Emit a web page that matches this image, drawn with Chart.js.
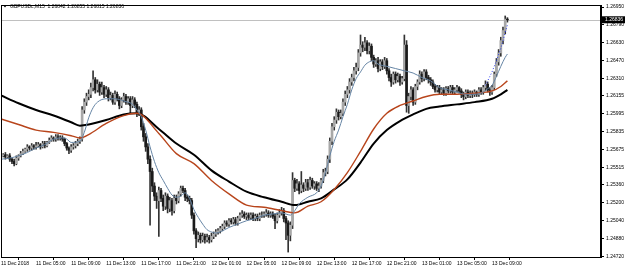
<!DOCTYPE html>
<html>
<head>
<meta charset="utf-8">
<script src="https://cdn.jsdelivr.net/npm/chart.js@4.4.1/dist/chart.umd.min.js"></script>
<style>
  html, body { margin: 0; padding: 0; background: #fff; }
  canvas { display: block; }
</style>
</head>
<body>
<canvas id="chart" width="625" height="270"></canvas>
<script>
// GBPUSDc M15, 15 minute bars from 11 Dec 01:00 (bar 0)
const barOpen = [
  1.2561,1.2562,1.2563,1.2561,1.2562,1.2559,1.2557,1.2555,1.2560,1.2562,
  1.2564,1.2566,1.2568,1.2570,1.2569,1.2571,1.2570,1.2571,1.2572,1.2570,
  1.2573,1.2571,1.2574,1.2576,1.2578,1.2577,1.2579,1.2578,1.2578,1.2577,
  1.2573,1.2569,1.2567,1.2570,1.2571,1.2573,1.2575,1.2577,1.2603,1.2610,
  1.2615,1.2617,1.2623,1.2630,1.2621,1.2626,1.2619,1.2623,1.2617,1.2621,
  1.2614,1.2616,1.2610,1.2617,1.2613,1.2607,1.2612,1.2615,1.2610,1.2613,
  1.2607,1.2612,1.2608,1.2600,1.2603,1.2588,1.2579,1.2570,1.2559,1.2548,
  1.2535,1.2526,1.2522,1.2531,1.2524,1.2517,1.2526,1.2515,1.2522,1.2513,
  1.2524,1.2522,1.2528,1.2533,1.2531,1.2525,1.2524,1.2522,1.2509,1.2495,
  1.2488,1.2491,1.2487,1.2490,1.2487,1.2489,1.2487,1.2490,1.2492,1.2494,
  1.2495,1.2497,1.2499,1.2502,1.2501,1.2504,1.2503,1.2505,1.2502,1.2506,
  1.2509,1.2510,1.2508,1.2509,1.2507,1.2509,1.2506,1.2508,1.2506,1.2509,
  1.2509,1.2510,1.2511,1.2509,1.2510,1.2508,1.2504,1.2509,1.2511,1.2513,
  1.2506,1.2502,1.2491,1.2500,1.2540,1.2533,1.2537,1.2531,1.2536,1.2533,
  1.2538,1.2534,1.2540,1.2535,1.2537,1.2533,1.2535,1.2540,1.2547,1.2548,
  1.2559,1.2575,1.2588,1.2594,1.2601,1.2597,1.2600,1.2610,1.2617,1.2621,
  1.2628,1.2632,1.2638,1.2641,1.2654,1.2661,1.2659,1.2663,1.2656,1.2660,
  1.2650,1.2644,1.2647,1.2640,1.2646,1.2642,1.2647,1.2638,1.2632,1.2628,
  1.2635,1.2630,1.2633,1.2628,1.2631,1.2661,1.2607,1.2615,1.2621,1.2610,
  1.2624,1.2628,1.2635,1.2631,1.2637,1.2632,1.2630,1.2628,1.2624,1.2621,
  1.2623,1.2619,1.2621,1.2618,1.2622,1.2620,1.2623,1.2619,1.2621,1.2623,
  1.2620,1.2617,1.2615,1.2619,1.2616,1.2618,1.2617,1.2619,1.2617,1.2621,
  1.2619,1.2623,1.2626,1.2621,1.2619,1.2623,1.2635,1.2646,1.2654,1.2665,1.2674,1.26842
];
const barHigh = [
  1.2564,1.2564,1.2565,1.2563,1.2564,1.2560,1.2559,1.2562,1.2563,1.2566,
  1.2568,1.2569,1.2572,1.2571,1.2573,1.2572,1.2574,1.2574,1.2573,1.2575,
  1.2575,1.2575,1.2578,1.2580,1.2579,1.2581,1.2581,1.2580,1.2580,1.2578,
  1.2574,1.2570,1.2572,1.2573,1.2575,1.2577,1.2579,1.2606,1.2613,1.2618,
  1.2621,1.2627,1.2638,1.2632,1.2630,1.2628,1.2628,1.2625,1.2624,1.2623,
  1.2619,1.2618,1.2620,1.2619,1.2615,1.2614,1.2618,1.2617,1.2615,1.2615,
  1.2615,1.2614,1.2610,1.2606,1.2605,1.2591,1.2582,1.2573,1.2562,1.2551,
  1.2538,1.2529,1.2534,1.2533,1.2527,1.2529,1.2528,1.2525,1.2524,1.2527,
  1.2527,1.2530,1.2535,1.2535,1.2533,1.2527,1.2526,1.2524,1.2511,1.2497,
  1.2494,1.2493,1.2493,1.2492,1.2492,1.2491,1.2493,1.2494,1.2496,1.2497,
  1.2499,1.2501,1.2504,1.2504,1.2506,1.2506,1.2507,1.2507,1.2508,1.2511,
  1.2513,1.2512,1.2511,1.2511,1.2511,1.2511,1.2510,1.2510,1.2511,1.2512,
  1.2512,1.2514,1.2513,1.2512,1.2512,1.2510,1.2511,1.2514,1.2516,1.2515,
  1.2508,1.2504,1.2503,1.2547,1.2542,1.2541,1.2539,1.2548,1.2538,1.2541,
  1.2541,1.2543,1.2542,1.2539,1.2539,1.2538,1.2542,1.2550,1.2551,1.2562,
  1.2578,1.2591,1.2597,1.2604,1.2603,1.2603,1.2613,1.2620,1.2624,1.2631,
  1.2635,1.2641,1.2645,1.2657,1.2670,1.2664,1.2668,1.2665,1.2663,1.2662,
  1.2652,1.2649,1.2650,1.2648,1.2648,1.2650,1.2649,1.2640,1.2635,1.2637,
  1.2637,1.2636,1.2635,1.2633,1.2670,1.2665,1.2618,1.2624,1.2623,1.2626,
  1.2630,1.2638,1.2637,1.2639,1.2639,1.2634,1.2632,1.2630,1.2626,1.2625,
  1.2625,1.2623,1.2623,1.2624,1.2624,1.2625,1.2625,1.2623,1.2625,1.2624,
  1.2622,1.2619,1.2621,1.2621,1.2620,1.2620,1.2621,1.2620,1.2623,1.2623,
  1.2625,1.2629,1.2628,1.2623,1.2625,1.2637,1.2649,1.2657,1.2668,1.2677,1.2687,1.26855
];
const barLow = [
  1.2559,1.2561,1.2559,1.2560,1.2557,1.2555,1.2553,1.2554,1.2558,1.2561,
  1.2563,1.2565,1.2566,1.2567,1.2567,1.2568,1.2568,1.2570,1.2568,1.2569,
  1.2569,1.2570,1.2573,1.2575,1.2575,1.2575,1.2576,1.2576,1.2575,1.2571,
  1.2567,1.2564,1.2565,1.2568,1.2569,1.2571,1.2573,1.2575,1.2600,1.2607,
  1.2612,1.2614,1.2620,1.2618,1.2619,1.2616,1.2617,1.2614,1.2615,1.2611,
  1.2612,1.2608,1.2608,1.2611,1.2604,1.2605,1.2610,1.2608,1.2608,1.2600,
  1.2605,1.2605,1.2597,1.2598,1.2585,1.2575,1.2566,1.2555,1.2500,1.2530,
  1.2522,1.2515,1.2490,1.2521,1.2513,1.2514,1.2511,1.2512,1.2509,1.2511,
  1.2519,1.2520,1.2526,1.2529,1.2522,1.2521,1.2519,1.2506,1.2492,1.2480,
  1.2485,1.2484,1.2485,1.2484,1.2485,1.2484,1.2485,1.2488,1.2490,1.2492,
  1.2493,1.2495,1.2497,1.2499,1.2499,1.2501,1.2501,1.2500,1.2500,1.2504,
  1.2507,1.2506,1.2505,1.2505,1.2505,1.2504,1.2504,1.2504,1.2504,1.2507,
  1.2507,1.2508,1.2507,1.2507,1.2506,1.2497,1.2502,1.2507,1.2509,1.2503,
  1.2487,1.2476,1.2486,1.2497,1.2530,1.2531,1.2528,1.2529,1.2530,1.2531,
  1.2531,1.2532,1.2533,1.2532,1.2531,1.2530,1.2533,1.2538,1.2544,1.2546,
  1.2556,1.2572,1.2585,1.2591,1.2594,1.2595,1.2598,1.2607,1.2614,1.2618,
  1.2625,1.2629,1.2635,1.2638,1.2651,1.2655,1.2656,1.2653,1.2653,1.2647,
  1.2641,1.2642,1.2637,1.2638,1.2639,1.2640,1.2635,1.2629,1.2624,1.2626,
  1.2627,1.2628,1.2625,1.2626,1.2629,1.2601,1.2600,1.2612,1.2607,1.2608,
  1.2621,1.2626,1.2628,1.2629,1.2630,1.2627,1.2625,1.2622,1.2619,1.2619,
  1.2617,1.2617,1.2616,1.2616,1.2618,1.2618,1.2617,1.2617,1.2619,1.2618,
  1.2614,1.2612,1.2613,1.2614,1.2614,1.2614,1.2615,1.2615,1.2615,1.2617,
  1.2617,1.2620,1.2619,1.2616,1.2617,1.2621,1.2633,1.2643,1.2651,1.2662,1.2671,1.26815
];
const barClose = [
  1.2562,1.2563,1.2561,1.2562,1.2559,1.2557,1.2555,1.2560,1.2562,1.2564,
  1.2566,1.2568,1.2570,1.2569,1.2571,1.2570,1.2571,1.2572,1.2570,1.2573,
  1.2571,1.2574,1.2576,1.2578,1.2577,1.2579,1.2578,1.2578,1.2577,1.2573,
  1.2569,1.2567,1.2570,1.2571,1.2573,1.2575,1.2577,1.2603,1.2610,1.2615,
  1.2617,1.2623,1.2630,1.2621,1.2626,1.2619,1.2623,1.2617,1.2621,1.2614,
  1.2616,1.2610,1.2617,1.2613,1.2607,1.2612,1.2615,1.2610,1.2613,1.2607,
  1.2612,1.2608,1.2600,1.2603,1.2588,1.2579,1.2570,1.2559,1.2548,1.2535,
  1.2526,1.2522,1.2531,1.2524,1.2517,1.2526,1.2515,1.2522,1.2513,1.2524,
  1.2522,1.2528,1.2533,1.2531,1.2525,1.2524,1.2522,1.2509,1.2495,1.2488,
  1.2491,1.2487,1.2490,1.2487,1.2489,1.2487,1.2490,1.2492,1.2494,1.2495,
  1.2497,1.2499,1.2502,1.2501,1.2504,1.2503,1.2505,1.2502,1.2506,1.2509,
  1.2510,1.2508,1.2509,1.2507,1.2509,1.2506,1.2508,1.2506,1.2509,1.2509,
  1.2510,1.2511,1.2509,1.2510,1.2508,1.2504,1.2509,1.2511,1.2513,1.2506,
  1.2502,1.2491,1.2500,1.2540,1.2533,1.2537,1.2531,1.2536,1.2533,1.2538,
  1.2534,1.2540,1.2535,1.2537,1.2533,1.2535,1.2540,1.2547,1.2548,1.2559,
  1.2575,1.2588,1.2594,1.2601,1.2597,1.2600,1.2610,1.2617,1.2621,1.2628,
  1.2632,1.2638,1.2641,1.2654,1.2661,1.2659,1.2663,1.2656,1.2660,1.2650,
  1.2644,1.2647,1.2640,1.2646,1.2642,1.2647,1.2638,1.2632,1.2628,1.2635,
  1.2630,1.2633,1.2628,1.2631,1.2661,1.2607,1.2615,1.2621,1.2610,1.2624,
  1.2628,1.2635,1.2631,1.2637,1.2632,1.2630,1.2628,1.2624,1.2621,1.2623,
  1.2619,1.2621,1.2618,1.2622,1.2620,1.2623,1.2619,1.2621,1.2623,1.2620,
  1.2617,1.2615,1.2619,1.2616,1.2618,1.2617,1.2619,1.2617,1.2621,1.2619,
  1.2623,1.2626,1.2621,1.2619,1.2623,1.2635,1.2646,1.2654,1.2665,1.2674,1.26842,1.26836
];

const slowBars = [0,8,16,24,32,36,40,48,56,62,72,80,88,96,104,112,120,128,134,140,146,152,158,164,170,176,182,188,194,200,208,216,224,228,231];
const maSlow = [1.2616,1.2609,1.2603,1.2598,1.2592,1.2589,1.2590,1.2594,1.2599,1.2600,1.2586,1.2573,1.2563,1.2549,1.2539,1.2530,1.2525,1.2521,1.2518,1.2521,1.2524,1.2532,1.2541,1.2556,1.2573,1.2585,1.2593,1.2599,1.2604,1.2606,1.2608,1.2610,1.2613,1.2617,1.2621];
const maMid = [1.2595,1.2590,1.2585,1.2583,1.2580,1.2578,1.2581,1.2591,1.2598,1.2600,1.2582,1.2564,1.2555,1.2540,1.2528,1.2518,1.2516,1.2513,1.2511,1.2517,1.2521,1.2532,1.2547,1.2566,1.2586,1.2600,1.2607,1.2611,1.2615,1.2617,1.2617,1.2618,1.2620,1.2624,1.2629];
const fastBars = [0,4,8,12,16,20,24,28,30,32,36,38,40,42,44,48,52,56,60,62,64,66,68,70,72,74,76,78,80,82,84,86,88,90,92,94,96,98,100,104,108,112,116,120,124,128,130,132,134,136,140,144,146,148,150,152,154,156,158,160,162,164,166,168,170,172,176,180,184,188,192,196,200,204,208,212,216,220,222,224,226,228,230,231];
const maFast = [1.2559,1.2560,1.2562,1.2565,1.2569,1.2572,1.2577,1.2578,1.2577,1.2574,1.2575,1.2583,1.2596,1.2605,1.2610,1.2613,1.2613,1.2611,1.2608,1.2603,1.2597,1.2585,1.2570,1.2557,1.2547,1.2540,1.2533,1.2527,1.2525,1.2526,1.2529,1.2524,1.2514,1.2507,1.2501,1.2496,1.2494,1.2493,1.2494,1.2498,1.2501,1.2504,1.2506,1.2509,1.2510,1.2511,1.2510,1.2509,1.2513,1.2519,1.2525,1.2529,1.2535,1.2547,1.2562,1.2575,1.2585,1.2597,1.2608,1.2621,1.2631,1.2637,1.2643,1.2646,1.2647,1.2644,1.2642,1.2640,1.2638,1.2636,1.2632,1.2629,1.2623,1.2621,1.2619,1.2617,1.2617,1.2619,1.2622,1.2625,1.2633,1.2642,1.2650,1.2653];
const dotBars = [221,224,226,228,230,231];
const dotLine = [1.2625,1.2637,1.2647,1.2658,1.2672,1.2679];

const priceTicks = [1.26950,1.26790,1.26630,1.26470,1.26310,1.26155,1.25995,1.25835,1.25675,1.25515,1.25360,1.25200,1.25040,1.24880,1.24720];
const timeTickBars = [0,16,32,48,64,80,96,112,128,144,160,176,192,208,224];
const timeTickText = ["11 Dec 2018","11 Dec 05:00","11 Dec 09:00","11 Dec 13:00","11 Dec 17:00","11 Dec 21:00","12 Dec 01:00","12 Dec 05:00","12 Dec 09:00","12 Dec 13:00","12 Dec 17:00","12 Dec 21:00","13 Dec 01:00","13 Dec 05:00","13 Dec 09:00"];
const symbolName = "GBPUSDc,M15";

const FONT = '"Liberation Sans", Arial, sans-serif';
const last = barClose.length - 1;

const toPoints = (bars, vals) => bars.map((b, k) => ({ x: b, y: vals[k] }));

// frame, title line and bid line like the terminal draws them
const terminalFrame = {
  id: "terminalFrame",
  beforeDatasetsDraw(chart) {
    const { ctx, chartArea: a, scales } = chart;
    const y = Math.round(scales.y.getPixelForValue(barClose[last])) + 0.5;
    ctx.save();
    ctx.strokeStyle = "#c0c0c0";
    ctx.lineWidth = 1;
    ctx.beginPath();
    ctx.moveTo(a.left, y);
    ctx.lineTo(a.right, y);
    ctx.stroke();
    ctx.restore();
  },
  afterDraw(chart) {
    const { ctx, chartArea: a, scales } = chart;
    ctx.save();
    ctx.strokeStyle = "#000";
    ctx.lineWidth = 1;
    ctx.strokeRect(a.left + 0.5, a.top + 0.5, a.right - a.left - 1, a.bottom - a.top);

    // title
    ctx.fillStyle = "#000";
    ctx.beginPath();
    ctx.moveTo(3, 5);
    ctx.lineTo(7, 5);
    ctx.lineTo(5, 7.5);
    ctx.closePath();
    ctx.fill();
    ctx.font = "5px " + FONT;
    ctx.textBaseline = "middle";
    const title = symbolName + "  " + [barOpen[last], barHigh[last], barLow[last], barClose[last]]
      .map((v) => v.toFixed(5)).join(" ");
    ctx.fillText(title, 10, 6.5);

    // bid label on the price scale
    const y = scales.y.getPixelForValue(barClose[last]);
    ctx.fillStyle = "#000";
    ctx.fillRect(a.right + 1, y - 3.5, 23, 7);
    ctx.fillStyle = "#fff";
    ctx.fillText(barClose[last].toFixed(5), a.right + 4, y);
    ctx.restore();
  },
};

new Chart(document.getElementById("chart"), {
  type: "bar",
  data: {
    datasets: [
      {
        type: "line",
        data: toPoints(dotBars, dotLine),
        borderColor: "#2a3cf0",
        borderWidth: 1,
        borderDash: [1, 2],
        pointRadius: 0,
        order: 0,
      },
      {
        type: "line",
        data: toPoints(fastBars, maFast),
        borderColor: "#6584a4",
        borderWidth: 1,
        pointRadius: 0,
        cubicInterpolationMode: "monotone",
        order: 1,
      },
      {
        type: "line",
        data: toPoints(slowBars, maMid),
        borderColor: "#b8451c",
        borderWidth: 1.4,
        pointRadius: 0,
        cubicInterpolationMode: "monotone",
        order: 2,
      },
      {
        type: "line",
        data: toPoints(slowBars, maSlow),
        borderColor: "#000",
        borderWidth: 2,
        pointRadius: 0,
        cubicInterpolationMode: "monotone",
        order: 3,
      },
      {
        data: barOpen.map((o, i) => ({ x: i, y: [o, barClose[i]] })),
        backgroundColor: (c) =>
          barClose[c.dataIndex] >= barOpen[c.dataIndex] ? "#a8a8a8" : "#1a1a1a",
        barThickness: 2,
        grouped: false,
        order: 5,
      },
      {
        data: barLow.map((l, i) => ({ x: i, y: [l, barHigh[i]] })),
        backgroundColor: "#333",
        barThickness: 1,
        grouped: false,
        order: 6,
      },
    ],
  },
  options: {
    responsive: false,
    animation: false,
    devicePixelRatio: 1,
    layout: { padding: { left: 1, top: 2, right: 0, bottom: 0 } },
    plugins: { legend: { display: false }, tooltip: { enabled: false } },
    scales: {
      x: {
        type: "linear",
        min: 0,
        max: 273.7,
        offset: false,
        bounds: "data",
        afterBuildTicks: (s) => { s.ticks = timeTickBars.map((v) => ({ value: v })); },
        afterFit: (s) => { s.height = 13; },
        grid: { drawOnChartArea: false, drawTicks: true, tickLength: 3, color: "#000" },
        border: { display: true, color: "#000" },
        ticks: {
          autoSkip: false,
          maxRotation: 0,
          minRotation: 0,
          align: "start",
          padding: 1,
          color: "#000",
          font: { family: FONT, size: 5 },
          callback: (v) => timeTickText[timeTickBars.indexOf(v)],
        },
      },
      y: {
        position: "right",
        min: 1.24716,
        max: 1.26968,
        bounds: "data",
        afterBuildTicks: (s) => { s.ticks = priceTicks.map((v) => ({ value: v })); },
        afterFit: (s) => { s.width = 24; },
        grid: { drawOnChartArea: false, drawTicks: true, tickLength: 3, color: "#000" },
        border: { display: true, color: "#000" },
        ticks: {
          autoSkip: false,
          padding: 2,
          color: "#000",
          font: { family: FONT, size: 5 },
          callback: (v) => v.toFixed(5),
        },
      },
    },
  },
  plugins: [terminalFrame],
});
</script>
</body>
</html>
